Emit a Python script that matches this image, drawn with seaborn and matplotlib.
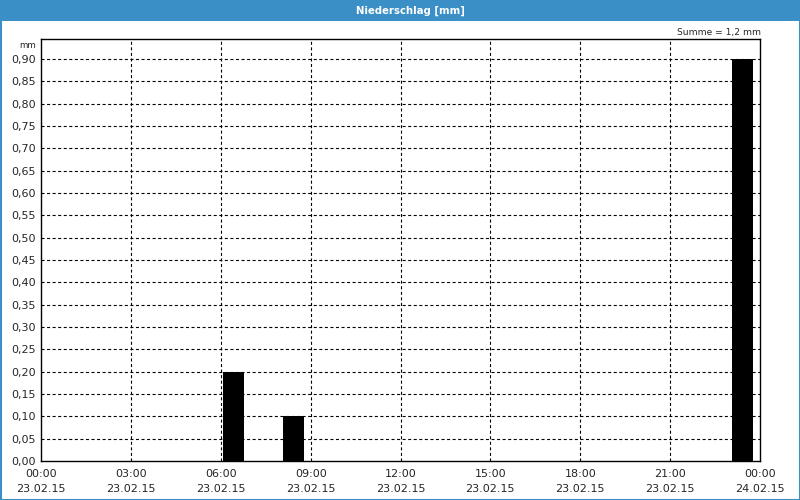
import numpy as np
import pandas as pd
import matplotlib
matplotlib.use("Agg")
import matplotlib.pyplot as plt
from matplotlib.patches import Rectangle
import seaborn as sns

# ---- data ----
hours = list(range(24))
precip = [0, 0, 0, 0, 0, 0, 0.20, 0, 0.10, 0, 0, 0, 0, 0, 0, 0, 0, 0, 0, 0, 0, 0, 0, 0.90]
tick_hours = [0, 3, 6, 9, 12, 15, 18, 21, 24]
tick_times = ["00:00", "03:00", "06:00", "09:00", "12:00", "15:00", "18:00", "21:00", "00:00"]
tick_dates = ["23.02.15"] * 8 + ["24.02.15"]
title = "Niederschlag [mm]"
unit = "mm"
summe = "Summe = 1,2 mm"

sns.set_style("white")
plt.rcParams["font.family"] = ["DejaVu Sans"]
plt.rcParams["lines.scale_dashes"] = False

W, H = 800, 500
fig = plt.figure(figsize=(8, 5), dpi=100, facecolor="white")
blue = "#3b8fc7"

# title bar and frame
fig.patches.append(Rectangle((0, 1 - 21 / H), 1, 21 / H, transform=fig.transFigure,
                             facecolor=blue, edgecolor="none", zorder=0))
fig.patches.append(Rectangle((0.5 / W, 0.5 / H), 1 - 1.0 / W, 1 - 1.0 / H, transform=fig.transFigure,
                             facecolor="none", edgecolor=blue, linewidth=1.5, zorder=0))
fig.text(410 / W, 1 - 10.5 / H, title, color="white", fontsize=7.3, fontweight="bold",
         ha="center", va="center")

ax = fig.add_axes([41 / W, 39 / H, (760 - 41) / W, (461 - 39) / H])
df = pd.DataFrame({"x": [h + 0.42 for h in hours], "y": precip})
sns.barplot(data=df, x="x", y="y", native_scale=True, width=0.7, color="black",
            saturation=1, linewidth=0, errorbar=None, ax=ax)

ax.set_xlim(0, 24)
ax.set_ylim(0, 0.945)
ax.set_xlabel("")
ax.set_ylabel("")

yt = np.round(np.arange(0, 0.901, 0.05), 2)
ax.set_yticks(yt)
ax.set_yticklabels([f"{v:.2f}".replace(".", ",") for v in yt], fontsize=8)
ax.set_xticks(tick_hours)
ax.set_xticklabels([f"{t}\n{d}" for t, d in zip(tick_times, tick_dates)], fontsize=8,
                   linespacing=1.55)
ax.set_xticks(range(25), minor=True)
ax.tick_params(axis="x", which="major", length=0, pad=6)
ax.tick_params(axis="x", which="minor", length=3, direction="in", width=0.8)
ax.tick_params(axis="y", which="major", length=0, pad=4)

for v in yt[1:]:
    ax.axhline(v, color="black", linewidth=0.8, linestyle=(0, (2.2, 1.8)), zorder=0.5)
for h in tick_hours[1:-1]:
    ax.axvline(h, color="black", linewidth=0.8, linestyle=(0, (2.2, 1.8)), zorder=0.5)

for s in ax.spines.values():
    s.set_color("black")
    s.set_linewidth(1)

fig.text(36 / W, 1 - 46 / H, unit, fontsize=6.3, ha="right", va="center")
fig.text(761 / W, 1 - 32 / H, summe, fontsize=6.6, ha="right", va="center")

fig.savefig("out.png", dpi=100, facecolor="white")
